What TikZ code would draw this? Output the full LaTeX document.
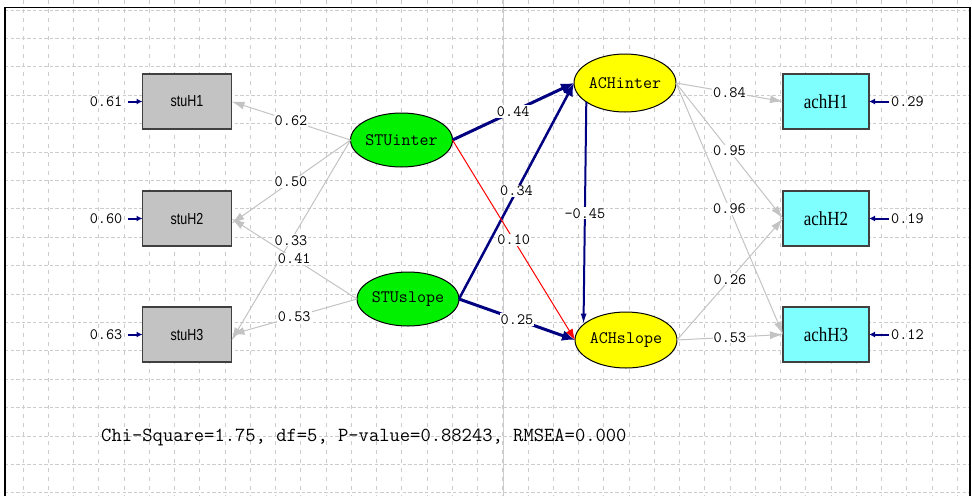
\documentclass[tikz,border=0pt]{standalone}
\usepackage{fontspec}
\usetikzlibrary{arrows.meta,shapes.geometric,positioning}

\newfontfamily\narrowsans[FakeStretch=0.78]{Liberation Sans}
\newfontfamily\narrowserif[FakeStretch=0.85]{Liberation Serif}

\definecolor{lisnavy}{RGB}{0,0,128}
\definecolor{lisgray}{RGB}{195,195,195}
\definecolor{liscyan}{RGB}{128,255,255}
\definecolor{lisgreen}{RGB}{0,240,0}
\definecolor{lisyellow}{RGB}{255,255,0}

\def\boxcol{187}
\def\achcol{826}

\begin{document}
\begin{tikzpicture}[x=1pt,y=-1pt,>=Latex]
    \tikzstyle{gridh}=[gray!40,line width=0.8pt,dash pattern=on 3.3pt off 2.3pt]
    \tikzstyle{gridv}=[gray!40,line width=0.8pt,dash pattern=on 4pt off 5pt]
    \tikzstyle{stubox}=[rectangle,draw=black!75,line width=1.2pt,fill=lisgray,minimum width=89pt,minimum height=55pt,inner sep=0pt,outer sep=0pt,font=\narrowsans\fontsize{16}{16}\selectfont]
    \tikzstyle{achbox}=[stubox,fill=liscyan,minimum width=86pt,font=\narrowserif\fontsize{20}{20}\selectfont]
    \tikzstyle{latent}=[ellipse,draw=black,line width=1pt,minimum width=89pt,minimum height=54pt,inner sep=0pt,outer sep=0pt,font=\ttfamily\fontsize{17.5}{18}\selectfont]
    \tikzstyle{coef}=[fill=white,inner sep=1pt,font=\ttfamily\fontsize{15.8}{16}\selectfont]
    \tikzstyle{errlab}=[inner sep=0pt,font=\ttfamily\fontsize{15.8}{16}\selectfont]
    \tikzstyle{meas}=[->,draw=lisgray,line width=1pt,-{Latex[length=13pt,width=8pt]}]
    \tikzstyle{errarrow}=[draw=lisnavy,line width=2pt,-{Latex[length=6pt,width=6pt]}]
    \tikzstyle{strong}=[draw=lisnavy,line width=3pt,-{Latex[length=13pt,width=11pt]}]

    \useasboundingbox (0,0) rectangle (972,496);

    \foreach \k in {0,...,17}
        \draw[gridh] (5,{10+28.4*\k}) -- (970,{10+28.4*\k});
    \foreach \k in {0,...,37}
        \draw[gridv] ({23+25.25*\k},0) -- ({23+25.25*\k},496);
    \draw[gray!40,line width=1pt] (503,0) -- (503,496);
    \draw[black,line width=1.6pt] (5,496) -- (5,7.5) -- (970,7.5) -- (970,496);

    \foreach \name / \y in {1/101.5,2/218.5,3/334.5}
        \node[stubox] (stuH\name) at (\boxcol,\y) {stuH\name};

    \foreach \name / \y in {1/101.5,2/218.5,3/334.5}
        \node[achbox] (achH\name) at (\achcol,\y) {achH\name};

    \node[latent,fill=lisgreen] (STUinter) at (401.5,140) {STUinter};
    \node[latent,fill=lisgreen] (STUslope) at (408,299) {STUslope};
    \node[latent,fill=lisyellow,minimum width=88pt,minimum height=58pt] (ACHinter) at (625,83) {ACHinter};
    \node[latent,fill=lisyellow,minimum width=90pt,minimum height=56pt] (ACHslope) at (626,340) {ACHslope};

    \foreach \name / \val in {1/0.61,2/0.60,3/0.63} {
        \node[errlab,left=20pt of stuH\name] (e-stu\name) {\val};
        \draw[errarrow,shorten <=5pt] (e-stu\name.east) -- (stuH\name.west);
    }
    \foreach \name / \val in {1/0.29,2/0.19,3/0.12} {
        \node[errlab,right=22pt of achH\name] (e-ach\name) {\val};
        \draw[errarrow,shorten <=2pt] (e-ach\name.west) -- (achH\name.east);
    }

    \draw[meas] (STUinter.west) -- node[coef,midway] {0.62} (stuH1.east);
    \draw[meas] (STUinter.west) -- node[coef,midway] {0.50} ([yshift=-5pt]stuH2.east);
    \draw[meas] (STUinter.west) -- node[coef,midway] {0.33} ([yshift=-6pt]stuH3.east);
    \draw[meas] (STUslope.west) -- node[coef,midway] {0.41} (stuH2.east);
    \draw[meas] (STUslope.west) -- node[coef,midway] {0.53} (stuH3.east);

    \foreach \dest / \val in {1/0.84,2/0.95,3/0.96}
        \draw[meas] (ACHinter.east) -- node[coef,midway] {\val} (achH\dest.west);
    \draw[meas] (ACHslope.east) -- node[coef,midway] {0.26} (achH2.west);
    \draw[meas] (ACHslope.east) -- node[coef,midway] {0.53} (achH3.west);

    \draw[strong] (STUinter.east) -- node[coef,midway] {0.44} (ACHinter.west);
    \draw[strong,line width=2.5pt] (STUslope.east) -- node[coef,midway] {0.34} (ACHinter.west);
    \draw[draw=red,line width=1pt,-{Latex[length=11pt,width=8pt]}] (STUinter.east) -- node[coef,midway] {0.10} (ACHslope.west);
    \draw[strong] (STUslope.east) -- node[coef,midway] {0.25} (ACHslope.west);
    \draw[draw=lisnavy,line width=2pt,-{Latex[length=11pt,width=6pt]}] (ACHinter.206) -- node[coef,midway] {-0.45} (ACHslope.160);

    \node[inner sep=0pt,anchor=west,font=\ttfamily\fontsize{20}{20}\selectfont] (fitline) at (101,437) {Chi-Square=1.75, df=5, P-value=0.88243, RMSEA=0.000};
\end{tikzpicture}
\end{document}
